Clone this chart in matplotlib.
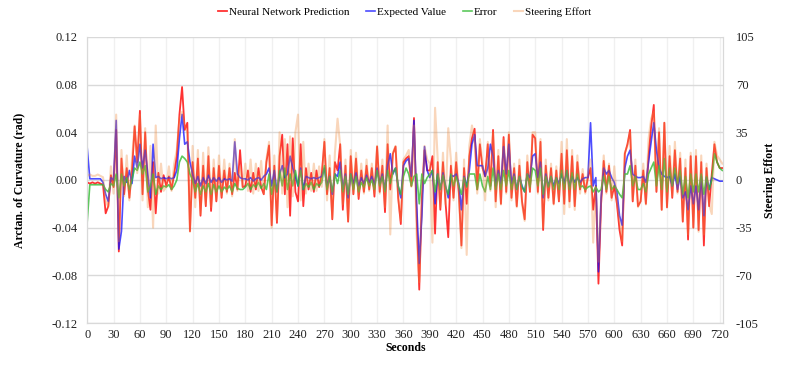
import numpy as np
import matplotlib
matplotlib.use("Agg")
import matplotlib.pyplot as plt
from matplotlib.ticker import MultipleLocator, FormatStrFormatter

# sample times (s), one reading every 3 s
seconds = np.arange(0, 724, 3)

# Neural network prediction, milliradians (one row per 30 s)
prediction_mrad = [
    -2, -3, -2, -3, -2, -3, -4, -28, -22, 4,
    -6, 42, -60, 18, -12, 10, -15, 8, 45, 15,
    58, -12, 40, -8, -25, 15, -28, 6, -10, 4,
    -5, 3, -8, 5, 20, 55, 78, 42, 48, -43,
    15, -15, 18, -30, 12, -22, 20, -26, 10, -18,
    12, -15, 8, -10, 10, -12, 6, -8, 25, -6,
    -5, 8, -10, 6, -8, 10, -6, -12, 15, 29,
    -38, 12, -36, 20, 38, -12, 30, -30, 35, -10,
    -18, 30, -22, 10, -8, 6, -10, 8, -6, 5,
    32, -12, 10, -33, 15, 8, 30, -25, 12, -35,
    20, -12, 18, -16, 8, -10, 12, -8, 10, -14,
    28, -10, 12, -27, 30, -8, 22, 28, -15, -37,
    15, 18, 20, -5, 52, -30, -92, -15, 25, 8,
    8, 20, -45, 15, -25, 15, -20, -48, 12, -15,
    15, -10, -55, 10, -20, 20, 35, 43, -8, 30,
    10, 3, 30, -5, 42, -18, 20, -20, 36, -10,
    38, -15, 10, -22, 12, -18, -33, 15, -10, 38,
    35, -10, 32, -42, 12, -15, 10, -20, 8, -18,
    22, -20, 25, -18, 20, -22, 15, -8, 5, -10,
    2, 10, -25, -5, -87, -20, 16, -10, 12, -15,
    -5, -20, -42, -55, 22, 30, 42, -18, 12, -22,
    -18, 8, -20, 20, 45, 63, -10, 40, -25, 48,
    -23, 20, -15, 25, -10, 18, -35, 10, -50, 20,
    -40, 20, -42, 15, -55, 10, -22, 5, 30, 15,
    10, 10,
]

# Expected value, milliradians
expected_mrad = [
    27, 1, 1, 1, 1, 1, -2, -12, -18, 2,
    0, 50, -58, -43, 3, -2, 8, -3, 20, 10,
    30, 10, 25, 5, -15, 30, 2, 3, 1, 2,
    1, 2, 1, 2, 8, 35, 55, 30, 32, 15,
    5, -3, 3, -5, 2, -3, 4, -2, 2, -1,
    2, -2, 1, 0, 1, -1, 32, 5, 2, 1,
    1, 0, 2, -1, 1, 2, 0, 3, 5, 10,
    -5, 8, -10, 5, 12, 2, 5, 20, 10, 3,
    -5, 10, -8, 3, 2, 1, 2, 1, 2, 3,
    10, -5, 3, -12, 5, 3, 15, -8, 5, -15,
    5, -3, 6, -5, 2, -3, 4, -2, 3, -4,
    10, -3, 5, -8, 12, 22, 5, 10, -5, -15,
    12, 16, 18, 3, 50, -20, -70, -30, 28, 8,
    2, 8, -20, 5, -8, 6, -5, -15, 4, 3,
    5, -3, -25, 3, -5, 8, 30, 38, 12, 12,
    12, 3, 10, 30, 20, -5, 8, -3, 28, 5,
    30, -3, 5, -8, 3, -5, -10, 5, 2, 20,
    22, 2, 15, -15, 5, -5, 3, -5, 2, -3,
    5, -3, 8, -5, 3, -2, 2, -2, 1, 2,
    2, 48, -5, 2, -77, -15, 10, 5, 8, 2,
    -2, -10, -30, -38, 10, 20, 25, 5, 3, 2,
    2, 3, -2, 15, 32, 48, 25, 10, 5, 3,
    2, 3, -5, 5, -8, 3, -15, -10, -25, -5,
    -20, -5, -25, 3, -30, 2, -8, 2, 1, 0,
    -1, -1,
]

# Error, milliradians
error_mrad = [
    -35, -4, -4, -4, -4, -4, -4, -8, -10, -3,
    -5, 5, -15, 5, -5, 2, -8, 0, 10, 8,
    15, 5, 12, -10, -5, 5, -12, -5, -8, -5,
    -6, -4, -8, -5, 0, 15, 20, 18, 15, 5,
    0, -10, -3, -12, -5, -10, -3, -12, -4, -10,
    -5, -10, -6, -8, -5, -10, -3, -7, -8, -8,
    -6, -3, -8, -4, -6, -2, -7, -3, -8, 5,
    -12, 0, -10, 8, -5, 10, -8, 5, -5, 8,
    -5, 8, -8, -3, -6, -2, -8, -3, -5, -2,
    12, -8, 3, -10, 5, -3, 8, -10, 3, -12,
    5, -8, 3, -10, -2, -6, 2, -5, 0, -8,
    8, -5, 3, -10, 8, -3, 6, 10, -5, -12,
    3, 10, 5, -5, 3, 5, -20, 5, -3, 2,
    5, 8, -10, 5, -8, 4, -6, -12, 5, -5,
    3, -5, -12, 2, -6, 5, 5, 5, -8, 5,
    -5, -10, 3, -8, 10, -8, 5, -8, 8, -5,
    8, -8, 3, -8, 3, -6, -10, 5, -6, 10,
    8, -5, 10, -12, 3, -6, 3, -8, 2, -8,
    8, -8, 8, -8, 6, -8, 5, -6, -5, -8,
    -6, -5, -10, -6, -10, -8, 3, -8, 3, -8,
    -5, -8, -12, -15, 5, 5, 12, -5, 3, -8,
    -8, -3, -10, 5, 10, 15, -5, 12, -8, 18,
    -10, 10, -5, 10, -3, 8, -12, 3, -15, 5,
    -10, 5, -10, 5, -12, 3, -8, 0, 22, 15,
    10, 8,
]

# Steering effort (right axis)
steering = [
    3, 4, 3, 3, 4, 3, 2, -15, -20, 10,
    -10, 48, -45, 22, -12, 18, -15, 15, 40, 5,
    48, -15, 38, -20, 25, -35, 40, -10, 12, -8,
    -5, 10, -8, 12, 22, 45, 50, 40, 35, -38,
    25, -20, 22, -25, 20, -18, 24, -20, 15, -15,
    18, -12, 15, -10, 12, -12, 30, -8, 10, -5,
    12, -8, 15, -10, 12, -8, 14, -10, 15, 28,
    -35, 18, -30, 35, -10, 30, -20, 32, -12, 35,
    48, -15, 28, -10, 12, -8, 12, -8, 10, -5,
    30, -15, 18, -28, 20, 45, 25, -18, 15, -30,
    22, -10, 20, -12, 12, -10, 15, -8, 12, -10,
    25, -10, 15, -20, 40, -40, 20, 25, -12, -30,
    15, 18, 22, -5, 40, -40, -75, -10, 25, 15,
    12, -46, 53, 15, -20, 20, -18, 38, 15, -15,
    20, -10, -50, 15, -55, 25, 40, 30, -10, 30,
    12, -15, 28, -8, 35, -20, 22, -18, 30, -10,
    35, -15, 12, -20, 15, -18, -30, 18, -8, 35,
    35, -10, 30, -35, 15, -15, 12, -18, 10, -15,
    28, -25, 30, -20, 22, -22, 18, -10, 8, -10,
    5, 15, -46, -5, -60, -15, 18, -10, 12, -15,
    10, -15, -30, -45, 20, 25, 35, -15, 15, -20,
    -15, 12, -18, 30, 45, 50, -8, 38, -22, 42,
    -20, 25, -12, 28, -10, 20, -30, 15, -40, 20,
    -35, 22, -38, 18, -40, 12, -18, -25, 28, 18,
    15, 12,
]

plt.rcParams.update({
    "font.family": ["Liberation Serif", "DejaVu Serif"],
    "axes.unicode_minus": False,
})

GRID = "#D9D9D9"
GRID_X = "#F0F0F0"
TEXT = "#222222"

fig = plt.figure(figsize=(8, 3.73), dpi=100)
fig.patch.set_facecolor("white")
ax = fig.add_axes([0.109, 0.134, 0.795, 0.767])
ax2 = ax.twinx()

pred = np.array(prediction_mrad) / 1000
expected = np.array(expected_mrad) / 1000
error = np.array(error_mrad) / 1000

l1, = ax.plot(seconds, pred, color="#FF0000", lw=1.3, alpha=0.8, zorder=3)
l2, = ax.plot(seconds, expected, color="#1010FF", lw=1.2, alpha=0.75, zorder=4)
l3, = ax.plot(seconds, error, color="#33BB33", lw=1.2, alpha=0.8, zorder=5)
l4, = ax2.plot(seconds, steering, color="#F08A3C", lw=1.5, alpha=0.35)

ax.set_xlim(0, 724)
ax.set_ylim(-0.12, 0.12)
ax2.set_ylim(-105, 105)
ax.xaxis.set_major_locator(MultipleLocator(30))
ax.yaxis.set_major_locator(MultipleLocator(0.04))
ax.yaxis.set_major_formatter(FormatStrFormatter("%.2f"))
ax2.yaxis.set_major_locator(MultipleLocator(35))

ax.grid(axis="y", color=GRID, lw=1, zorder=0)
ax.grid(axis="x", color=GRID_X, lw=1, zorder=0)
ax.set_axisbelow(True)

for a in (ax, ax2):
    a.tick_params(length=0, labelsize=9, colors=TEXT)
    for s in a.spines.values():
        s.set_color(GRID)
    a.spines["top"].set_visible(False)
ax.tick_params(axis="x", pad=4)
ax.tick_params(axis="y", pad=7)
ax2.tick_params(axis="y", pad=9)

ax.set_xlabel("Seconds", fontsize=8.5, fontweight="bold", labelpad=1)
ax.set_ylabel("Arctan. of Curvature (rad)", fontsize=8.5, fontweight="bold", labelpad=19)
ax2.set_ylabel("Steering Effort", fontsize=8.5, fontweight="bold", labelpad=4)

fig.legend([l1, l2, l3, l4],
           ["Neural Network Prediction", "Expected Value", "Error", "Steering Effort"],
           loc="center", bbox_to_anchor=(0.506, 0.968), ncol=4, frameon=False,
           fontsize=8, handlelength=0.8, handletextpad=0.2, columnspacing=1.5)

fig.savefig("out.png", dpi=100, facecolor="white")
